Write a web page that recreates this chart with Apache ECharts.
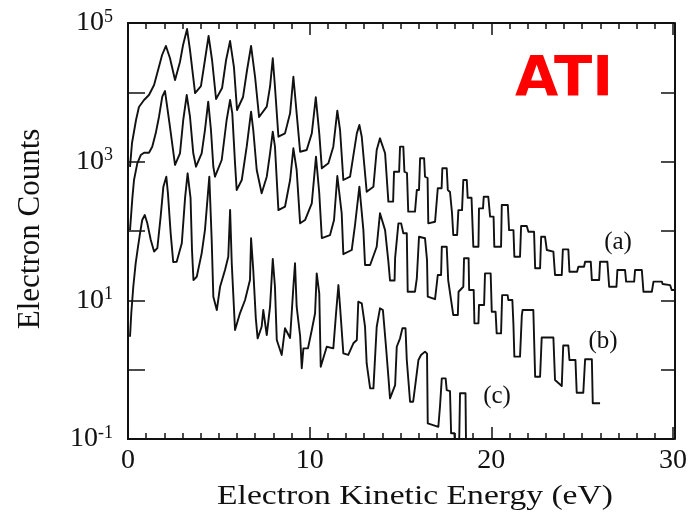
<!DOCTYPE html>
<html>
<head>
<meta charset="utf-8">
<script src="https://cdn.jsdelivr.net/npm/echarts@6/dist/echarts.min.js"></script>
<style>
  html, body { margin: 0; padding: 0; background: #fff; }
  #chart { width: 690px; height: 520px; }
</style>
</head>
<body>
<div id="chart"></div>
<script>
// Photoelectron spectra: [kinetic energy (eV), electron counts]
const spectrumA = [
  [0.11,840],[0.22,1860],[0.44,3990],[0.60,6140],[0.88,7750],[1.15,9150],[1.43,12760],[1.65,21000],
  [1.87,34550],[2.08,46600],[2.30,31300],[2.58,15060],[2.85,27380],[3.02,48200],[3.24,81900],[3.40,40800],
  [3.68,9770],[4.00,12330],[4.22,29270],[4.42,64940],[4.61,29270],[4.83,8020],[5.16,11550],[5.38,29270],
  [5.60,54960],[5.81,23170],[5.98,5560],[6.31,8570],[6.53,21000],[6.75,46600],[6.97,16630],[7.19,4400],
  [7.61,6210],[7.79,12050],[7.94,30970],[8.06,12050],[8.25,2290],[8.61,2560],[8.89,4980],[9.07,16800],
  [9.25,4980],[9.44,1392],[9.80,1472],[10.08,2560],[10.30,8480],[10.49,2560],[10.63,802],[10.99,946],
  [11.26,1644],[11.48,5430],[11.63,2860],[11.81,544],[12.18,607],[12.55,2560],[12.69,3380],[12.82,2290],
  [13.09,369],[13.46,436],[13.64,1472],[13.82,2170],[14.10,1320],[14.28,265],[14.54,265],[14.59,716],
  [14.87,716],[14.92,1650],[15.10,1650],[15.16,716],[15.30,686],[15.37,190],[15.74,190],[15.84,390],
  [15.96,390],[16.02,1118],[16.24,1118],[16.29,607],[16.43,581],[16.47,129],[16.84,136],[16.99,413],
  [17.20,413],[17.24,802],[17.48,802],[17.54,390],[17.66,365],[17.77,182],[17.84,87.5],[18.05,87.5],
  [18.12,200],[18.32,200],[18.39,544],[18.58,544],[18.63,301],[18.84,301],[18.94,59.3],[19.22,59.3],
  [19.25,212],[19.47,212],[19.51,312],[19.76,312],[19.86,161],[20.05,161],[20.09,59.3],[20.46,59.3],
  [20.50,237],[20.83,237],[20.90,103],[21.14,103],[21.19,42.6],[21.50,42.6],[21.56,118],[21.87,118],
  [21.96,97.7],[22.27,97.7],[22.33,29],[22.60,29],[22.66,82.7],[22.87,82.7],[22.97,53.2],[23.33,50.3],
  [23.42,23.2],[23.79,23.2],[23.85,54.4],[24.15,54.4],[24.21,25.9],[24.63,25.9],[24.70,30.5],[25.01,30.5],
  [25.07,36.1],[25.38,36.1],[25.44,19.6],[25.84,19.6],[25.89,36.1],[26.29,36.1],[26.39,15.7],[26.79,15.7],
  [26.84,27.4],[27.26,27.4],[27.32,18.6],[27.76,18.6],[27.81,27.4],[28.18,27.4],[28.27,13.3],[28.73,13.3],
  [28.82,18.6],[29.28,18.6],[29.32,17.2],[29.73,16.6],[29.82,14.1],[29.97,14.1]
];

const spectrumB = [
  [0.11,103],[0.24,301],[0.33,544],[0.51,946],[0.70,1247],[0.88,1346],[1.15,1346],[1.33,1644],
  [1.52,2560],[1.70,4450],[1.88,8650],[2.03,10450],[2.30,3190],[2.58,896],[2.85,1320],[3.03,3990],
  [3.22,9150],[3.40,4450],[3.58,1320],[3.73,846],[4.04,1320],[4.22,2860],[4.40,7330],[4.55,2860],
  [4.68,846],[4.77,607],[5.14,1057],[5.41,3990],[5.60,7750],[5.72,4980],[5.87,946],[5.96,390],
  [6.24,544],[6.51,1644],[6.75,5255],[6.87,2860],[7.06,758],[7.33,350],[7.61,607],[7.79,1320],
  [7.94,2705],[8.06,1644],[8.25,200],[8.61,224],[8.89,544],[9.07,1558],[9.25,758],[9.44,129],
  [9.71,144],[10.08,251],[10.31,1179],[10.49,350],[10.63,79.2],[11.08,87.5],[11.30,144],[11.48,621],
  [11.72,180],[11.81,46.3],[12.27,53.2],[12.45,122],[12.69,436],[12.91,103],[13.00,32.3],[13.28,32.3],
  [13.64,59.3],[13.82,180],[14.10,103],[14.28,36.1],[14.37,19.3],[14.62,19.3],[14.65,41],[14.83,129],
  [14.98,129],[15.10,92.6],[15.29,92.6],[15.34,13.3],[15.74,13.3],[15.84,20.8],[15.94,20.8],[15.96,82.7],
  [16.29,78.5],[16.40,38.1],[16.44,11.3],[16.84,10.4],[16.99,23.2],[17.17,23.2],[17.21,59.3],[17.48,59.3],
  [17.56,19.6],[17.66,19],[17.84,6.14],[18.09,6.14],[18.13,13.3],[18.39,15.7],[18.43,40.4],[18.68,40.4],
  [18.71,14.1],[18.96,14.1],[19.00,4.66],[19.22,4.66],[19.25,8.56],[19.53,8.56],[19.58,24.5],[19.89,24.5],
  [19.95,6.85],[20.16,6.85],[20.22,3.34],[20.46,3.34],[20.52,11.9],[20.82,11.9],[20.86,10.1],[21.08,10.1],
  [21.14,4.41],[21.19,1.54],[21.50,1.54],[21.60,6.14],[21.64,7.25],[22.23,7.25],[22.33,0.79],[22.60,0.79],
  [22.69,2.91],[23.33,2.91],[23.42,0.71],[23.79,0.58],[23.87,2.23],[24.15,2.23],[24.21,1.38],[24.54,1.38],
  [24.61,0.465],[24.97,0.465],[25.07,1.41],[25.44,1.41],[25.49,0.327],[25.89,0.327]
];

const spectrumC = [
  [0.11,2.99],[0.18,6.5],[0.29,15.7],[0.42,34.2],[0.55,59.3],[0.66,92.6],[0.78,144],[0.92,170],
  [1.06,129],[1.25,74.1],[1.43,50.6],[1.61,56.8],[1.79,161],[1.94,436],[2.10,607],[2.19,350],
  [2.34,92.6],[2.48,35.7],[2.67,36.1],[2.95,66.4],[3.13,301],[3.27,679],[3.43,301],[3.51,53.2],
  [3.59,19.6],[3.77,21.9],[4.04,47.6],[4.22,103],[4.46,607],[4.59,74.1],[4.68,11.3],[4.87,7.25],
  [5.05,15.7],[5.32,27.4],[5.50,42.6],[5.60,202],[5.69,34.2],[5.87,3.73],[6.14,6.5],[6.42,10.1],
  [6.69,19.6],[6.75,78.5],[6.87,27.4],[7.01,5.5],[7.11,2.83],[7.33,4.16],[7.42,7.25],[7.61,3.16],
  [7.79,8.09],[7.94,39.5],[8.06,15.7],[8.16,2.68],[8.43,1.63],[8.61,3.95],[8.89,2.86],[9.07,15.7],
  [9.16,34.2],[9.25,8.09],[9.44,3.06],[9.53,1.05],[9.62,2.03],[9.87,2.03],[10.08,3.73],[10.26,6.5],
  [10.35,24.5],[10.49,12.6],[10.57,1.10],[10.90,2.14],[11.26,2.03],[11.41,6.5],[11.54,16.6],[11.63,8.09],
  [11.81,1.72],[12.08,1.63],[12.36,2.4],[12.55,2.68],[12.63,9.55],[12.82,9.06],[13.00,4.16],[13.09,1.23],
  [13.28,0.538],[13.46,0.538],[13.64,4.16],[13.82,7.67],[13.98,7.25],[14.15,2.14],[14.28,0.79],[14.37,0.386],
  [14.65,0.6],[14.74,2.14],[14.92,2.83],[15.05,3.95],[15.22,3.95],[15.29,1.38],[15.47,0.345],[15.64,0.345],
  [15.78,0.67],[15.93,1.38],[16.07,1.63],[16.29,1.82],[16.40,1.7],[16.44,0.168],[17.02,0.150],[17.11,0.292],
  [17.21,0.75],[17.42,0.75],[17.48,0.508],[17.66,0.49],[17.72,0.121],[17.90,0.121],[17.94,0.08],[18.16,0.08],
  [18.21,0.456],[18.51,0.456],[18.54,0.08]
];

const seriesNames = ['(a)', '(b)', '(c)'];
const xTitle = 'Electron Kinetic Energy (eV)';
const yTitle = 'Electron Counts';
const badge = 'ATI';

const SERIF = '"Liberation Serif", "Times New Roman", serif';
const INK = '#111';
const PLOT_BOX = { left: 128, right: 15, top: 23, bottom: 81 };

const chart = echarts.init(document.getElementById('chart'), null, { renderer: 'canvas' });

// label only the odd decades: 10^-1, 10^1, 10^3, 10^5
function decadeLabel(v) {
  const e = Math.round(Math.log10(v));
  if (Math.abs(e) % 2 === 0) return '';
  return '{b|10}{s|' + e + '}';
}

function frameLine() {
  return { show: true, onZero: false, lineStyle: { color: INK, width: 2 } };
}

// energy frame axes (grid 1): long ticks every 10 eV, short ticks every 1 eV, bottom and top
function xFrameAxis(pos, step, tickLen, labels) {
  return {
    gridIndex: 1, type: 'value', position: pos, min: 0, max: 30, interval: step,
    axisLine: frameLine(),
    axisTick: { show: true, inside: true, length: tickLen, lineStyle: { color: INK, width: 1.5 } },
    splitLine: { show: false },
    axisLabel: { show: labels, color: INK, fontFamily: SERIF, fontSize: 28, margin: 8 }
  };
}

function yAxisDef(pos, labels) {
  return {
    gridIndex: 0, type: 'log', logBase: 10, position: pos, min: 0.1, max: 100000,
    axisLine: frameLine(),
    axisTick: { show: true, inside: true, length: labels ? 17 : 14, lineStyle: { color: INK, width: 1.5 } },
    splitLine: { show: false },
    axisLabel: {
      show: labels, margin: 15, formatter: decadeLabel,
      rich: {
        b: { fontFamily: SERIF, fontSize: 28, color: INK, lineHeight: 30 },
        s: { fontFamily: SERIF, fontSize: 18, color: INK, verticalAlign: 'top', lineHeight: 18 }
      }
    }
  };
}

function curve(name, data) {
  return {
    name, type: 'line', data, showSymbol: false, clip: true, xAxisIndex: 0, yAxisIndex: 0,
    lineStyle: { color: INK, width: 1.9, join: 'round' }, animation: false
  };
}

chart.setOption({
  animation: false,
  backgroundColor: '#fff',
  grid: [Object.assign({}, PLOT_BOX), Object.assign({}, PLOT_BOX)],
  xAxis: [
    { gridIndex: 0, type: 'value', min: 0, max: 30, show: false },
    xFrameAxis('bottom', 10, 12, true),
    xFrameAxis('top', 10, 12, false),
    xFrameAxis('bottom', 1, 6, false),
    xFrameAxis('top', 1, 6, false)
  ],
  yAxis: [
    yAxisDef('left', true),
    yAxisDef('right', false),
    { gridIndex: 1, type: 'value', min: 0, max: 1, show: false }
  ],
  series: [
    curve(seriesNames[0], spectrumA),
    curve(seriesNames[1], spectrumB),
    curve(seriesNames[2], spectrumC)
  ],
  graphic: [
    { type: 'text', x: 415, y: 497, scaleX: 1.2, style: {
        text: xTitle, font: '28px ' + SERIF, fill: INK, align: 'center', verticalAlign: 'middle' } },
    { type: 'text', x: 31, y: 229, rotation: Math.PI / 2, style: {
        text: yTitle, font: '31px ' + SERIF, fill: INK, align: 'center', verticalAlign: 'middle' } },
    { type: 'text', x: 618, y: 242, style: {
        text: seriesNames[0], font: '25px ' + SERIF, fill: INK, align: 'center', verticalAlign: 'middle' } },
    { type: 'text', x: 603, y: 341, style: {
        text: seriesNames[1], font: '25px ' + SERIF, fill: INK, align: 'center', verticalAlign: 'middle' } },
    { type: 'text', x: 497, y: 396, style: {
        text: seriesNames[2], font: '25px ' + SERIF, fill: INK, align: 'center', verticalAlign: 'middle' } },
    { type: 'text', x: 564, y: 80, style: {
        text: badge, font: 'bold 56px "DejaVu Sans", sans-serif', fill: '#ff0000',
        align: 'center', verticalAlign: 'middle' } }
  ]
});
</script>
</body>
</html>
